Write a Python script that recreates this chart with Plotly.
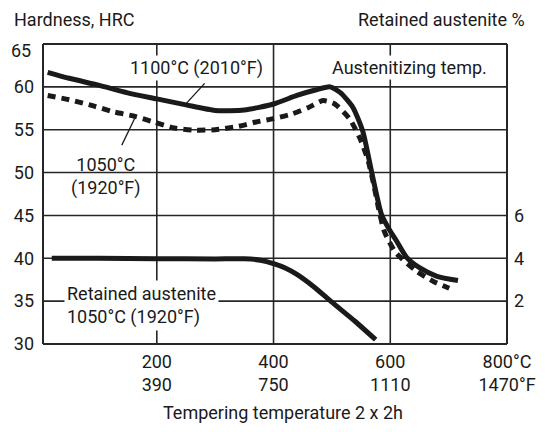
import plotly.graph_objects as go

# ---- data ----
temp_1100 = [13, 50, 100, 150, 200, 250, 300, 350, 400, 440, 470, 497, 515, 536, 553, 568, 585, 598, 610, 628, 650, 680, 716]
hrc_1100 = [61.7, 61.0, 60.2, 59.3, 58.6, 57.9, 57.25, 57.3, 58.0, 59.0, 59.6, 60.0, 59.3, 57.6, 54.8, 50.1, 45.1, 43.4, 42.1, 40.1, 38.9, 37.9, 37.4]

temp_1050 = [13, 50, 90, 125, 160, 195, 230, 265, 300, 340, 370, 400, 430, 460, 485, 505, 530, 548, 562, 572, 580, 590, 609, 645, 674, 701]
hrc_1050 = [59.0, 58.5, 57.8, 57.1, 56.6, 55.9, 55.2, 54.95, 55.0, 55.4, 55.9, 56.3, 56.8, 57.6, 58.4, 58.0, 56.3, 54.0, 51.4, 48.5, 45.8, 43.1, 40.7, 38.5, 37.3, 36.5]

temp_ra = [20, 100, 200, 300, 350, 380, 400, 420, 440, 470, 500, 540, 575]
ra_pct = [4.0, 4.0, 3.98, 3.97, 3.98, 3.9, 3.75, 3.55, 3.25, 2.65, 1.95, 1.05, 0.2]

x_range = [5, 800]
hrc_range = [30, 65]
ra_range = [0, 14]
x_tickvals = [200, 400, 600, 800]
x_ticktext = ["200<br>390", "400<br>750", "600<br>1110", "800°C<br>1470°F"]
x_gridvals = [200, 400, 600]
hrc_ticks = [30, 35, 40, 45, 50, 55, 60, 65]
hrc_ticktext = ["30", "35", "40", "45", "50", "55", "60", ""]
hrc_gridvals = [35, 40, 45, 50, 55, 60]
ra_ticks = [2, 4, 6]

FONT = "Roboto, sans-serif"
FS = 18
INK = "#1a1a1a"
GRID = "#262626"

# page has an 8px body margin: size the figure to fit the 545x432 window
OFF = 8
W, H = 545 - 2 * OFF, 432 - 2 * OFF
# frame position (figure pixels)
FL, FR, FT, FB = 43 - OFF, 507 - OFF, 44 - OFF, 344 - OFF
# plot area is the frame grown by PAD px so the frame lines are not clipped
PAD = 2
L, R, T, B = FL - PAD, W - (FR + PAD), FT - PAD, H - (FB + PAD)
PW, PH = W - L - R, H - T - B

dx = (x_range[1] - x_range[0]) / (FR - FL)
dy = (hrc_range[1] - hrc_range[0]) / (FB - FT)
dra = (ra_range[1] - ra_range[0]) / (FB - FT)
x_axis_range = [x_range[0] - PAD * dx, x_range[1] + PAD * dx]
y_axis_range = [hrc_range[0] - PAD * dy, hrc_range[1] + PAD * dy]
y2_axis_range = [ra_range[0] - PAD * dra, ra_range[1] + PAD * dra]


def px(xref_pix):
    return (xref_pix - OFF - L) / PW


def py(yref_pix):
    return (H - B - (yref_pix - OFF)) / PH


fig = go.Figure()

# grid lines (drawn as traces at the tick values)
gx, gy = [], []
for gv in x_gridvals:
    gx += [gv, gv, None]
    gy += [hrc_range[0], hrc_range[1], None]
for gv in hrc_gridvals:
    gx += [x_range[0], x_range[1], None]
    gy += [gv, gv, None]
fig.add_trace(go.Scatter(x=gx, y=gy, mode="lines", line=dict(color=GRID, width=1.6),
                         showlegend=False, hoverinfo="skip"))

# frame: four separate edges
bx, by = [], []
for xv in x_range:
    bx += [xv, xv, None]
    by += [hrc_range[0], hrc_range[1], None]
for yv in hrc_range:
    bx += [x_range[0], x_range[1], None]
    by += [yv, yv, None]
fig.add_trace(go.Scatter(x=bx, y=by, mode="lines", line=dict(color=GRID, width=2, simplify=False),
                         cliponaxis=False, showlegend=False, hoverinfo="skip"))

fig.add_trace(go.Scatter(x=temp_1100, y=hrc_1100, mode="lines",
                         line=dict(color=INK, width=5, shape="spline", smoothing=0.6),
                         showlegend=False, hoverinfo="skip"))
fig.add_trace(go.Scatter(x=temp_1050, y=hrc_1050, mode="lines",
                         line=dict(color=INK, width=5, dash="8px,6px", shape="spline", smoothing=0.6),
                         showlegend=False, hoverinfo="skip"))
fig.add_trace(go.Scatter(x=temp_ra, y=ra_pct, mode="lines", yaxis="y2",
                         line=dict(color=INK, width=5, shape="spline", smoothing=0.6),
                         showlegend=False, hoverinfo="skip"))

# leader lines
fig.add_trace(go.Scatter(x=[251, 282], y=[58.1, 60.4], mode="lines",
                         line=dict(color=INK, width=1.3), showlegend=False, hoverinfo="skip"))
fig.add_trace(go.Scatter(x=[140, 162], y=[53.2, 56.3], mode="lines",
                         line=dict(color=INK, width=1.3), showlegend=False, hoverinfo="skip"))

fig.update_layout(
    template="none",
    width=W, height=H,
    margin=dict(l=L, r=R, t=T, b=B, pad=0),
    paper_bgcolor="white", plot_bgcolor="white",
    font=dict(family=FONT, size=FS, color=INK),
    xaxis=dict(range=x_axis_range, tickvals=x_tickvals, ticktext=x_ticktext, automargin=False,
               showgrid=False, showline=False, ticks="", zeroline=False, ticklabelstandoff=3),
    yaxis=dict(range=y_axis_range, tickvals=hrc_ticks, ticktext=hrc_ticktext, automargin=False,
               showgrid=False, showline=False, ticks="", zeroline=False, ticklabelstandoff=6),
    yaxis2=dict(range=y2_axis_range, tickvals=ra_ticks, overlaying="y", side="right", automargin=False,
                showgrid=False, zeroline=False, showline=False, ticks="",
                ticklabelstandoff=4),
)

ann = [
    dict(text="Hardness, HRC", x=12, y=19, xanchor="left"),
    dict(text="Retained austenite %", x=527, y=19, xanchor="right"),
    dict(text="Tempering temperature 2 x 2h", x=283, y=412.5, xanchor="center"),
    dict(text="65", x=33, y=51, xanchor="right"),
]
for a in ann:
    fig.add_annotation(text=a["text"], xref="paper", yref="paper",
                       x=px(a["x"]), y=py(a["y"]), xanchor=a["xanchor"], yanchor="middle",
                       showarrow=False, font=dict(family=FONT, size=FS, color=INK))

fig.add_annotation(text="1100°C (2010°F)", x=px(196), y=py(68), xref="paper", yref="paper", showarrow=False,
                   xanchor="center", yanchor="middle", bgcolor="white", borderpad=1,
                   font=dict(family=FONT, size=FS, color=INK))
fig.add_annotation(text="Austenitizing temp.", x=px(409), y=py(67), xref="paper", yref="paper", showarrow=False,
                   xanchor="center", yanchor="middle", bgcolor="white", borderpad=1,
                   font=dict(family=FONT, size=FS, color=INK))
fig.add_annotation(text="1050°C<br>(1920°F)", x=px(106), y=py(176), xref="paper", yref="paper", showarrow=False,
                   xanchor="center", yanchor="middle",
                   font=dict(family=FONT, size=FS, color=INK))
fig.add_annotation(text="Retained austenite<br>1050°C (1920°F)", x=px(64), y=py(305), xref="paper", yref="paper",
                   showarrow=False, xanchor="left", yanchor="middle", align="left",
                   bgcolor="white", borderpad=2,
                   font=dict(family=FONT, size=FS, color=INK))

fig.write_html("out.html")
